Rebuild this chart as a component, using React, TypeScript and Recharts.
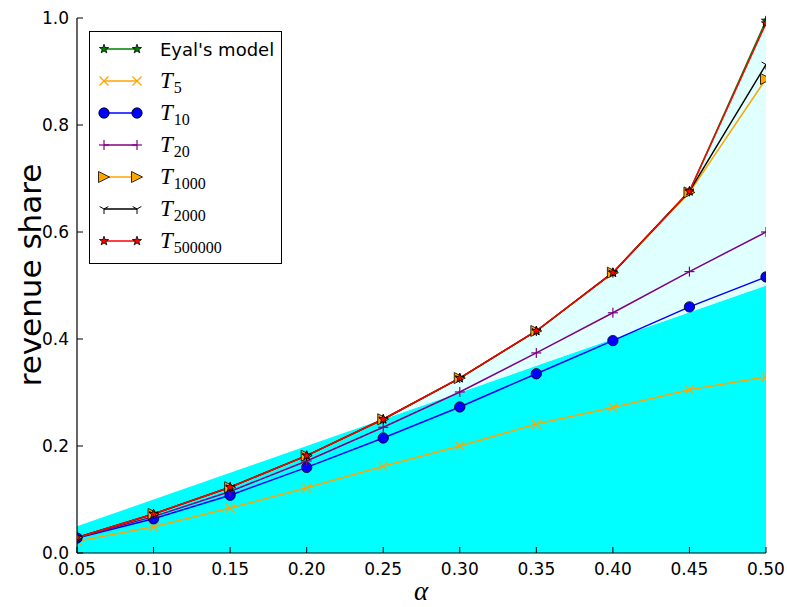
import { ComposedChart, Area, Line, XAxis, YAxis } from 'recharts';

const ALPHA = [0.05, 0.1, 0.15, 0.2, 0.25, 0.3, 0.35, 0.4, 0.45, 0.5];
const EYAL = [0.029, 0.073, 0.123, 0.182, 0.25, 0.327, 0.415, 0.524, 0.676, 0.995];
const T5 = [0.022, 0.049, 0.084, 0.122, 0.162, 0.2, 0.241, 0.272, 0.305, 0.329];
const T10 = [0.028, 0.064, 0.108, 0.16, 0.215, 0.273, 0.335, 0.397, 0.46, 0.516];
const T20 = [0.029, 0.068, 0.115, 0.172, 0.235, 0.301, 0.374, 0.449, 0.526, 0.6];
const T1000 = [0.029, 0.073, 0.123, 0.182, 0.25, 0.327, 0.415, 0.524, 0.674, 0.886];
const T2000 = [0.029, 0.073, 0.123, 0.182, 0.25, 0.327, 0.415, 0.524, 0.676, 0.913];
const T500000 = [0.029, 0.073, 0.123, 0.182, 0.25, 0.327, 0.415, 0.524, 0.676, 0.99];
const Y_TICKS = [0, 0.2, 0.4, 0.6, 0.8, 1.0];

const SANS = 'DejaVu Sans';
const SERIF = 'Liberation Serif';

const data = ALPHA.map((a, i) => ({
  alpha: a,
  base: a,
  excess: Math.max(0, EYAL[i] - a),
  eyal: EYAL[i],
  t5: T5[i],
  t10: T10[i],
  t20: T20[i],
  t1000: T1000[i],
  t2000: T2000[i],
  t500000: T500000[i],
}));

// marker shapes, roughly matplotlib's
function Star({ cx, cy, fill, r = 4.8 }: any) {
  const pts: string[] = [];
  for (let k = 0; k < 10; k++) {
    const ang = ((-90 + k * 36) * Math.PI) / 180;
    const rr = k % 2 ? r * 0.4 : r;
    pts.push(`${cx + rr * Math.cos(ang)},${cy + rr * Math.sin(ang)}`);
  }
  return <polygon points={pts.join(' ')} fill={fill} stroke="#000" strokeWidth={0.8} />;
}

function Cross({ cx, cy, color, r = 4.5 }: any) {
  return (
    <g stroke={color} strokeWidth={1.2}>
      <line x1={cx - r} y1={cy - r} x2={cx + r} y2={cy + r} />
      <line x1={cx - r} y1={cy + r} x2={cx + r} y2={cy - r} />
    </g>
  );
}

function Plus({ cx, cy, color, r = 5 }: any) {
  return (
    <g stroke={color} strokeWidth={1.2}>
      <line x1={cx - r} y1={cy} x2={cx + r} y2={cy} />
      <line x1={cx} y1={cy - r} x2={cx} y2={cy + r} />
    </g>
  );
}

function Circle({ cx, cy, r = 5.2 }: any) {
  return <circle cx={cx} cy={cy} r={r} fill="#0000ff" stroke="#000" strokeWidth={0.8} />;
}

function TriRight({ cx, cy, r = 5.5 }: any) {
  return (
    <polygon
      points={`${cx + r},${cy} ${cx - r},${cy - r} ${cx - r},${cy + r}`}
      fill="#ffa500"
      stroke="#000"
      strokeWidth={0.8}
    />
  );
}

function TriDown({ cx, cy, r = 5 }: any) {
  return (
    <g stroke="#000" strokeWidth={1}>
      <line x1={cx} y1={cy} x2={cx} y2={cy + r} />
      <line x1={cx} y1={cy} x2={cx - r * 0.87} y2={cy - r * 0.5} />
      <line x1={cx} y1={cy} x2={cx + r * 0.87} y2={cy - r * 0.5} />
    </g>
  );
}

const SERIES = [
  { key: 'eyal', color: '#008000', label: "Eyal's model", sub: '', mark: (cx: number, cy: number) => <Star cx={cx} cy={cy} fill="#008000" /> },
  { key: 't5', color: '#ffa500', label: 'T', sub: '5', mark: (cx: number, cy: number) => <Cross cx={cx} cy={cy} color="#ffa500" /> },
  { key: 't10', color: '#0000ff', label: 'T', sub: '10', mark: (cx: number, cy: number) => <Circle cx={cx} cy={cy} /> },
  { key: 't20', color: '#800080', label: 'T', sub: '20', mark: (cx: number, cy: number) => <Plus cx={cx} cy={cy} color="#800080" /> },
  { key: 't1000', color: '#ffa500', label: 'T', sub: '1000', mark: (cx: number, cy: number) => <TriRight cx={cx} cy={cy} /> },
  { key: 't2000', color: '#000000', label: 'T', sub: '2000', mark: (cx: number, cy: number) => <TriDown cx={cx} cy={cy} /> },
  { key: 't500000', color: '#ff0000', label: 'T', sub: '500000', mark: (cx: number, cy: number) => <Star cx={cx} cy={cy} fill="#ff0000" /> },
];

const BottomTick = ({ x, y, payload }: any) => (
  <g>
    <line x1={x} x2={x} y1={y} y2={y - 6} stroke="#000" />
    <text x={x} y={y + 22} textAnchor="middle" fontSize={17} fontFamily={SANS} fill="#000">
      {payload.value.toFixed(2)}
    </text>
  </g>
);

const TopTick = ({ x, y }: any) => <line x1={x} x2={x} y1={y} y2={y + 6} stroke="#000" />;

const LeftTick = ({ x, y, payload }: any) => (
  <g>
    <line x1={x} x2={x + 6} y1={y} y2={y} stroke="#000" />
    <text x={x - 8} y={y} dy="0.36em" textAnchor="end" fontSize={17} fontFamily={SANS} fill="#000">
      {payload.value.toFixed(1)}
    </text>
  </g>
);

const RightTick = ({ x, y }: any) => <line x1={x} x2={x - 6} y1={y} y2={y} stroke="#000" />;

function LegendBox() {
  const rowY = [49, 81, 113, 145, 177, 209, 241];
  return (
    <g>
      <rect x={89.5} y={31.5} width={192} height={232} fill="#fff" stroke="#000" strokeWidth={1} />
      {SERIES.map((s, i) => {
        const y = rowY[i];
        return (
          <g key={s.key}>
            <line x1={104} x2={137} y1={y} y2={y} stroke={s.color} strokeWidth={1.5} />
            {s.mark(104, y)}
            {s.mark(137, y)}
            {s.sub === '' ? (
              <text x={160} y={y + 7} fontSize={18} fontFamily={SANS} fill="#000">
                {s.label}
              </text>
            ) : (
              <text x={160} y={y + 7} fontFamily={SERIF} fill="#000">
                <tspan fontSize={23} fontStyle="italic">
                  {s.label}
                </tspan>
                <tspan fontSize={16} dx={1} dy={5}>
                  {s.sub}
                </tspan>
              </text>
            )}
          </g>
        );
      })}
    </g>
  );
}

export default function App() {
  return (
    <div style={{ position: 'absolute', left: 0, top: 0, width: 787, height: 607, background: '#fff' }}>
      <ComposedChart width={787} height={607} data={data} margin={{ top: 18, right: 21, bottom: 0, left: 0 }}>
        <XAxis
          dataKey="alpha"
          type="number"
          domain={[0.05, 0.5]}
          ticks={ALPHA}
          interval={0}
          allowDataOverflow
          height={54}
          tickSize={0}
          tickMargin={0}
          tickLine={false}
          axisLine={{ stroke: '#000', strokeWidth: 1.2 }}
          tick={<BottomTick />}
        />
        <XAxis
          xAxisId="top"
          orientation="top"
          dataKey="alpha"
          type="number"
          domain={[0.05, 0.5]}
          ticks={ALPHA}
          interval={0}
          height={0}
          tickSize={0}
          tickMargin={0}
          tickLine={false}
          axisLine={{ stroke: '#000', strokeWidth: 1.2 }}
          tick={<TopTick />}
        />
        <YAxis
          type="number"
          domain={[0, 1]}
          ticks={Y_TICKS}
          interval={0}
          width={77}
          tickSize={0}
          tickMargin={0}
          tickLine={false}
          axisLine={{ stroke: '#000', strokeWidth: 1.2 }}
          tick={<LeftTick />}
        />
        <YAxis
          yAxisId="right"
          orientation="right"
          type="number"
          domain={[0, 1]}
          ticks={Y_TICKS}
          interval={0}
          width={0}
          tickSize={0}
          tickMargin={0}
          tickLine={false}
          axisLine={{ stroke: '#000', strokeWidth: 1.2 }}
          tick={<RightTick />}
        />
        <Area type="linear" dataKey="base" stackId="fill" fill="#00ffff" fillOpacity={1} stroke="none" isAnimationActive={false} />
        <Area type="linear" dataKey="excess" stackId="fill" fill="#e0ffff" fillOpacity={1} stroke="none" isAnimationActive={false} />
        {SERIES.map((s) => (
          <Line
            key={s.key}
            type="linear"
            dataKey={s.key}
            stroke={s.color}
            strokeWidth={1.5}
            isAnimationActive={false}
            activeDot={false}
            dot={(p: any) => <g key={`${s.key}-${p.index}`}>{s.mark(p.cx, p.cy)}</g>}
          />
        ))}
      </ComposedChart>
      <svg width={787} height={607} style={{ position: 'absolute', left: 0, top: 0, pointerEvents: 'none' }}>
        <LegendBox />
        <text
          x={30}
          y={275}
          transform="rotate(-90 30 275)"
          textAnchor="middle"
          dominantBaseline="central"
          fontSize={31}
          fontFamily={SANS}
          fill="#000"
        >
          revenue share
        </text>
        <text x={421} y={600} textAnchor="middle" fontSize={27} fontStyle="italic" fontFamily={SERIF} fill="#000">
          α
        </text>
      </svg>
    </div>
  );
}
